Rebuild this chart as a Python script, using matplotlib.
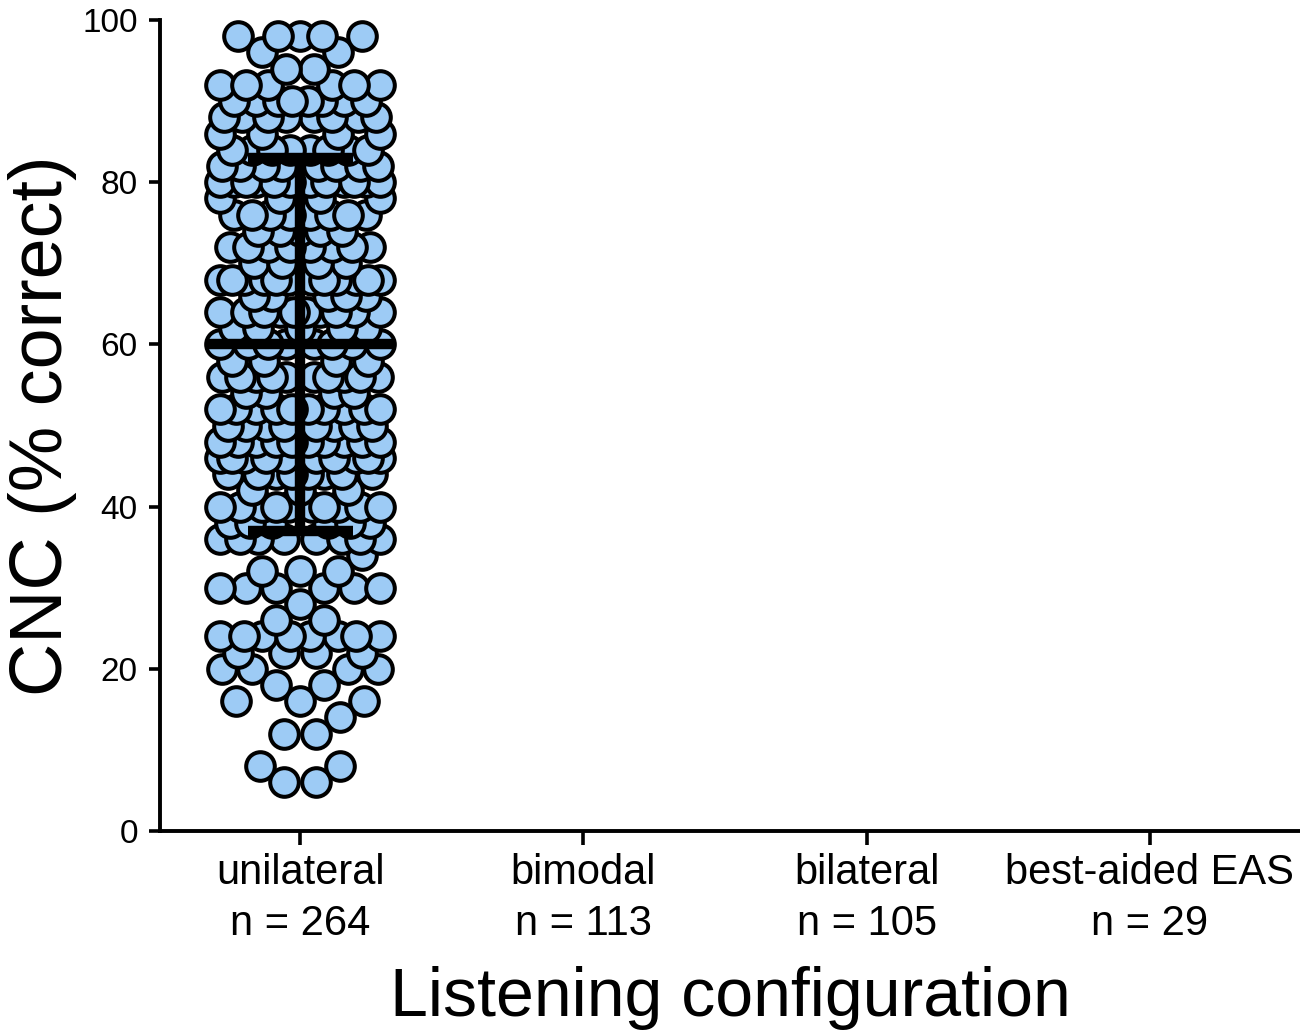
import numpy as np
import matplotlib
matplotlib.use("Agg")
import matplotlib.pyplot as plt

plt.rcParams['font.family'] = ['Liberation Sans', 'DejaVu Sans']

categories = ["unilateral", "bimodal", "bilateral", "best-aided EAS"]
n_labels = ["n = 264", "n = 113", "n = 105", "n = 29"]

# unilateral CNC scores (value -> count)
score_levels = [98, 96, 94, 92, 90, 88, 86, 84, 82, 80, 78, 76, 74, 72, 70, 68, 66, 64,
                62, 60, 58, 56, 54, 52, 50, 48, 46, 44, 42, 40, 38, 36, 34, 32, 30, 28,
                26, 24, 22, 20, 18, 16, 14, 12, 8, 6]
score_counts = [5, 2, 2, 6, 8, 8, 4, 8, 8, 12, 4, 8, 5, 8, 4, 12, 5, 10,
                5, 8, 4, 10, 4, 10, 8, 10, 10, 8, 3, 10, 6, 8, 1, 3, 6, 1,
                2, 8, 4, 4, 2, 3, 1, 2, 2, 2]
uni_mean = 60.0
uni_sd = 23.0

W, H = 1300, 1033
fig = plt.figure(figsize=(W / 100, H / 100), dpi=100)
ax = fig.add_axes([160 / W, 202 / H, 1 - 160 / W, (831 - 20) / H])
ax.set_xlim(-0.495, 3.53)
ax.set_ylim(0, 100)

# symmetric beeswarm layout (row by row) in pixel space
ax_w_px = W - 160
ax_h_px = 831 - 20
px_per_x = ax_w_px / (3.53 + 0.495)
px_per_y = ax_h_px / 100.0
D = 30.0            # marker diameter px
dmin = 0.95 * D
maxw = 0.285 * px_per_x
step = 2.0
offs = np.arange(0, maxw + 1e-9, step)

placed = []


def mind(c, yp):
    if not placed:
        return 1e9
    arr = np.array(placed)
    return np.min(np.hypot(arr[:, 0] - c, arr[:, 1] - yp))


xs_all, ys_all = [], []
for lvl, cnt in sorted(zip(score_levels, score_counts)):
    yp = lvl * px_per_y
    remaining = cnt
    if cnt % 2 == 1:
        best, bs = 0.0, -1
        for c in offs:
            d = mind(c, yp)
            if d >= dmin:
                best = c
                break
            if d > bs:
                bs, best = d, c
        placed.append((best, yp))
        xs_all.append(best)
        ys_all.append(lvl)
        remaining -= 1
    while remaining > 0:
        best, bs = offs[-1], -1
        for c in offs[1:]:
            d = min(mind(c, yp), mind(-c, yp), 2 * c)
            if d >= dmin:
                best = c
                break
            if d > bs:
                bs, best = d, c
        for c in (best, -best):
            placed.append((c, yp))
            xs_all.append(c)
            ys_all.append(lvl)
        remaining -= 2

xs = np.array(xs_all) / px_per_x
ys = np.array(ys_all, dtype=float)

ax.scatter(xs, ys, s=(D * 0.72 - 1) ** 2, facecolor="#9DCBF5",
           edgecolor="black", linewidth=2.9, zorder=3, clip_on=False)

# mean and SD
ax.plot([-0.33, 0.33], [uni_mean, uni_mean], color="black", lw=7.5, zorder=4,
        solid_capstyle="butt")
ax.plot([0, 0], [uni_mean - uni_sd, uni_mean + uni_sd], color="black", lw=7.5,
        zorder=4, solid_capstyle="butt")
for v in (uni_mean - uni_sd, uni_mean + uni_sd):
    ax.plot([-0.185, 0.185], [v, v], color="black", lw=7.5, zorder=4,
            solid_capstyle="butt")

ax.spines["top"].set_visible(False)
ax.spines["right"].set_visible(False)
for s in ("left", "bottom"):
    ax.spines[s].set_linewidth(2.8)
ax.set_yticks([0, 20, 40, 60, 80, 100])
ax.set_xticks(range(len(categories)))
ax.set_xticklabels([f"{c}\n{n}" for c, n in zip(categories, n_labels)],
                   linespacing=1.35)
ax.tick_params(axis="y", length=8, width=2.6, labelsize=24, pad=8)
ax.tick_params(axis="x", length=10, width=2.6, labelsize=30, pad=6)
ax.set_ylabel("CNC (% correct)", fontsize=53, labelpad=4)
ax.set_xlabel("Listening configuration", fontsize=49, labelpad=16)

fig.savefig("out.png", dpi=100)
